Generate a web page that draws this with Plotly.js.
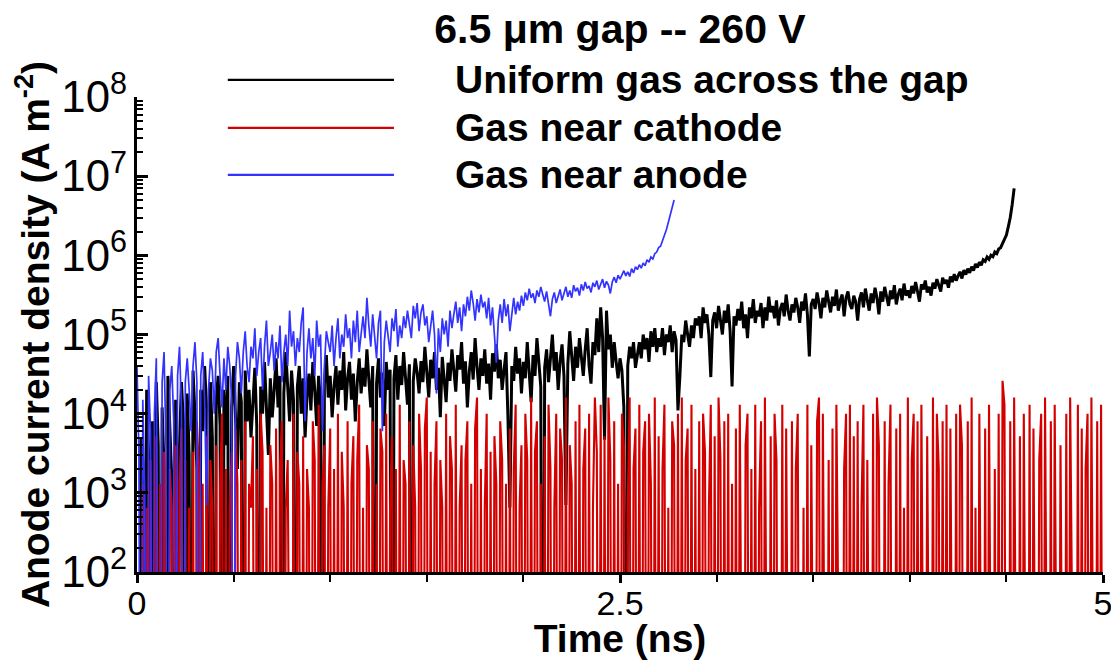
<!DOCTYPE html>
<html>
<head>
<meta charset="utf-8">
<script src="https://cdn.plot.ly/plotly-3.0.1.min.js"></script>
<style>
  html, body { margin: 0; padding: 0; background: #fff; }
  #chart { width: 1111px; height: 660px; }
</style>
</head>
<body>
<div id="chart"></div>
<script>
// ---------------- DATA (anode current density, A m^-2; samples every 0.01 ns) ----------------
const titleText = "6.5 \u03bcm gap -- 260 V";
const seriesNames = ["Uniform gas across the gap", "Gas near cathode", "Gas near anode"];
const seriesColors = ["#000000", "#d40000", "#3333ff"];
const timeStep = 0.01; // ns between samples, first sample at t = 0
const xTickValues = [0, 2.5, 5];
const xTickLabels = ["0", "2.5", "5"];

// Uniform gas across the gap (t = 0 ... 4.54 ns)
const uniformGas = [
  0, 0, 5e3, 1e3, 0, 2e4, 3e3, 0, 8e3, 0,
  2.5e4, 4e3, 0, 1.2e4, 2e3, 0, 3e4, 6e3, 1.5e3, 0,
  1.5e4, 0, 4e3, 2.5e4, 8e3, 0, 1.8e4, 3e3, 0, 3.5e4,
  1e4, 2e3, 0, 2e4, 6e3, 4e4, 1.2e4, 0, 2.5e4, 5e3,
  0, 1.5e4, 3e4, 7e3, 0, 2e4, 4e3, 3e4, 0, 1.2e4,
  4e4, 9e3, 2e3, 2.5e4, 1.4e4, 0, 3.5e4, 8e3, 2e4, 5e3,
  1.6e4, 3.8e4, 7e3, 0, 2.2e4, 1e4, 4.5e4, 1.3e4, 3e3, 2.8e4,
  9e3, 2e4, 5e4, 1.2e4, 3e4, 0, 1.8e4, 6e4, 2.5e4, 8e3,
  3.5e4, 1.5e4, 0, 2.2e4, 4e4, 1e4, 2.8e4, 5e3, 1.7e4, 3.2e4,
  1.1e4, 4.5e4, 2e4, 7e3, 3e4, 1.4e4, 0, 2.4e4, 5.5e4, 1.6e4,
  3e4, 9e3, 2.2e4, 4e4, 1.3e4, 3.5e4, 2e4, 6e4, 1.1e4, 2.8e4,
  4.5e4, 1.5e4, 3.2e4, 8e3, 2.5e4, 5e4, 1.8e4, 3.8e4, 2.2e4, 6.5e4,
  2.7e4, 1.2e4, 4e4, 0, 2.4e4, 5e4, 1.6e4, 3.3e4, 7e3, 4.5e4,
  2e4, 3.6e4, 0, 2.8e4, 5.5e4, 1.5e4, 4e4, 2.3e4, 6e4, 3e4,
  1.3e4, 4.2e4, 0, 2.6e4, 5e4, 3.3e4, 1.8e4, 4.6e4, 2.5e4, 7e4,
  3.5e4, 1.6e4, 4.8e4, 2.8e4, 6e4, 2e4, 3.8e4, 9e3, 5.2e4, 3e4,
  1.4e4, 4.4e4, 2.6e4, 6.5e4, 3.2e4, 1.9e4, 5.5e4, 3.6e4, 8e4, 2.4e4,
  4.6e4, 1.2e4, 3.4e4, 6e4, 2.7e4, 9e4, 3.9e4, 2e4, 5e4, 3e4,
  6.5e4, 2.4e4, 4.3e4, 1.5e4, 5.8e4, 3.4e4, 7.5e4, 2.8e4, 4.8e4, 2e4,
  3.6e4, 6e4, 9e3, 650, 4e4, 2.6e4, 7e4, 3.2e4, 5e4, 1.8e4,
  4.5e4, 2.8e4, 8e4, 3.5e4, 1.4e4, 5.5e4, 3e4, 9e4, 4e4, 2.2e4,
  0, 3.8e4, 6.5e4, 2.5e4, 5e4, 1e5, 3.5e4, 6e4, 2e4, 4.6e4,
  7.5e4, 3e4, 700, 4.2e4, 1.1e5, 5e4, 2.6e4, 7e4, 3.8e4, 9e4,
  4.8e4, 3e4, 6.5e4, 1.2e5, 4e4, 2.4e4, 8e4, 5.5e4, 1.6e5, 6e4,
  2.2e5, 9e4, 4.7e3, 2e5, 6.5e4, 1e5, 3.8e4, 8e4, 4.5e4, 2.8e4,
  5e4, 3.5e4, 1.2e4, 0, 4e4, 7e4, 5e4, 8e4, 3.8e4, 6e4,
  8e4, 5e4, 1e5, 6.5e4, 9e4, 4.5e4, 1.1e5, 7e4, 1.2e5, 6e4,
  9e4, 7e4, 1.2e5, 5.5e4, 1e5, 8e4, 1.3e5, 6e4, 1.1e5, 8.5e4,
  1.1e4, 3e4, 1e5, 8e4, 1.5e5, 1e5, 7e4, 1.3e5, 9e4, 1.6e5,
  1.3e5, 1.7e5, 9e4, 2.2e5, 1.4e5, 1.8e5, 1e5, 2.9e4, 1.5e5, 1.9e5,
  1.2e5, 2.3e5, 1.6e5, 1e5, 2e5, 1.4e5, 2.4e5, 1.1e5, 2.2e4, 1.7e5,
  1.3e5, 2.1e5, 1.5e5, 2.6e5, 1.2e5, 1.8e5, 9e4, 2.2e5, 1.6e5, 2.8e5,
  1.4e5, 2e5, 1.7e5, 2.5e5, 1.2e5, 2.2e5, 1.5e5, 3e5, 1.9e5, 2.3e5,
  1.6e5, 2.7e5, 1.3e5, 2.1e5, 2.5e5, 1.7e5, 3.2e5, 2e5, 1.5e5, 2.4e5,
  1.9e5, 2.9e5, 2.2e5, 1.4e5, 2.6e5, 2e5, 3.3e5, 1.8e5, 5.3e4, 2.4e5,
  2.8e5, 2.1e5, 3.4e5, 2.5e5, 1.6e5, 2.9e5, 2.2e5, 3.6e5, 2.6e5, 1.9e5,
  3e5, 2.3e5, 3.7e5, 2e5, 2.7e5, 3.2e5, 1.7e5, 2.9e5, 3.5e5, 2.4e5,
  2.1e5, 3.1e5, 2.6e5, 1.5e5, 2.8e5, 3.4e5, 2.2e5, 3.8e5, 2.7e5, 2e5,
  3.3e5, 2.5e5, 3.9e5, 2.9e5, 1.8e5, 3.5e5, 2.6e5, 4e5, 3e5, 2.3e5,
  3.6e5, 2.8e5, 4.2e5, 2.4e5, 3.2e5, 3.8e5, 2.7e5, 4.4e5, 3.1e5, 3.6e5,
  2.9e5, 4.1e5, 3.3e5, 4.6e5, 3.5e5, 2.6e5, 4.3e5, 3.7e5, 4.8e5, 3.4e5,
  4e5, 3.1e5, 4.5e5, 3.8e5, 5e5, 4.2e5, 3.5e5, 5.2e5, 4.4e5, 4.9e5,
  3.9e5, 5.4e5, 4.6e5, 5.8e5, 4.8e5, 5.5e5, 6.2e5, 5.1e5, 6.5e5, 5.7e5,
  6.8e5, 6e5, 7.2e5, 6.4e5, 7.8e5, 7e5, 8.2e5, 7.5e5, 8.8e5, 8.4e5,
  9.5e5, 8.9e5, 1e6, 9.6e5, 1.1e6, 1.05e6, 1.2e6, 1.25e6, 1.4e6, 1.55e6,
  1.8e6, 2.3e6, 3e6, 4.4e6, 7e6
];

// Gas near cathode (t = 0 ... 5.00 ns)
const gasNearCathode = [
  0, 0, 0, 1300, 0, 650, 0, 2600, 0, 0,
  5200, 0, 1300, 0, 3300, 0, 0, 2000, 650, 0,
  4000, 0, 1300, 6500, 0, 2600, 0, 650, 0, 3300,
  0, 8000, 2000, 0, 1300, 0, 5200, 0, 2600, 650,
  0, 4000, 0, 1300, 1e4, 0, 2000, 0, 650, 3300,
  0, 6500, 1300, 0, 2600, 0, 8000, 0, 1300, 650,
  5200, 0, 2000, 0, 1e4, 3300, 0, 650, 0, 4000,
  1300, 0, 6500, 0, 2000, 8000, 0, 650, 2600, 0,
  0, 1e4, 0, 3300, 1300, 0, 5200, 0, 2000, 650,
  0, 8000, 2600, 0, 1.3e4, 0, 1300, 4000, 0, 650,
  6500, 0, 2000, 0, 1e4, 0, 3300, 650, 0, 8000,
  0, 1300, 5200, 0, 2600, 1.3e4, 0, 650, 0, 4000,
  2000, 0, 8000, 0, 1300, 0, 6500, 3300, 0, 1e4,
  0, 650, 5200, 0, 2000, 0, 1.3e4, 0, 2600, 1300,
  0, 8000, 0, 4000, 650, 0, 1e4, 2000, 0, 6500,
  1.6e4, 0, 3300, 0, 1300, 8000, 0, 2600, 650, 0,
  1e4, 0, 5200, 2000, 0, 1.3e4, 0, 650, 4000, 0,
  2600, 8000, 0, 1300, 0, 6500, 1.6e4, 0, 2000, 0,
  650, 1e4, 0, 3300, 0, 5200, 1300, 0, 8000, 2600,
  0, 1300, 0, 6500, 0, 2000, 1.3e4, 0, 650, 4000,
  0, 1e4, 2600, 0, 1.6e4, 0, 3300, 8000, 0, 1300,
  0, 5200, 0, 1.3e4, 2000, 0, 650, 1e4, 0, 6500,
  2600, 0, 1.6e4, 0, 4000, 1300, 0, 8000, 0, 1.3e4,
  0, 2000, 6500, 0, 1e4, 0, 650, 1.6e4, 3300, 0,
  1.3e4, 0, 5200, 0, 1.6e4, 2600, 0, 8000, 0, 1300,
  0, 1e4, 4000, 0, 650, 1.6e4, 0, 2000, 6500, 0,
  1.3e4, 0, 3300, 8000, 0, 1e4, 1300, 0, 1.6e4, 0,
  5200, 0, 2000, 1.3e4, 0, 650, 0, 8000, 4000, 0,
  1e4, 0, 1.6e4, 0, 2600, 6500, 0, 1.3e4, 0, 2000,
  0, 8000, 0, 1e4, 3300, 0, 650, 1.3e4, 0, 5200,
  0, 1.6e4, 2600, 0, 8000, 0, 1e4, 0, 1300, 0,
  6500, 0, 1.3e4, 0, 0, 4000, 1e4, 0, 2000, 0,
  1.3e4, 0, 650, 8000, 0, 1.6e4, 0, 0, 5200, 0,
  1e4, 2600, 0, 0, 1.3e4, 0, 6500, 0, 0, 8000,
  0, 2000, 1e4, 0, 0, 650, 0, 1.3e4, 0, 4000,
  0, 0, 8000, 1.6e4, 0, 1e4, 0, 0, 2600, 0,
  6500, 0, 1.3e4, 0, 0, 0, 2000, 1e4, 0, 1.3e4,
  0, 5200, 0, 8000, 0, 650, 1.3e4, 0, 2600, 0,
  0, 1e4, 0, 1.6e4, 4000, 0, 0, 8000, 0, 1300,
  1.3e4, 0, 0, 6500, 0, 1e4, 0, 650, 0, 1.6e4,
  0, 2600, 1e4, 0, 8000, 0, 1.3e4, 0, 0, 5200,
  0, 0, 1.6e4, 0, 1e4, 2000, 0, 8000, 0, 1.3e4,
  0, 6500, 0, 0, 1e4, 0, 1.3e4, 4000, 0, 0,
  8000, 0, 1.6e4, 0, 650, 0, 1e4, 0, 0, 6500,
  0, 1.3e4, 0, 0, 2000, 0, 1e4, 0, 2.6e4, 1.3e4,
  0, 0, 8000, 0, 1.6e4, 0, 0, 5200, 0, 1e4,
  0, 0, 1.3e4, 0, 6500, 0, 0, 2600, 1e4, 0,
  1.6e4, 0, 0, 8000, 0, 1.3e4, 0, 0, 4000, 0,
  0, 1e4, 0, 1.6e4, 0, 0, 0, 1.3e4, 0, 6500,
  0, 2000, 1e4, 0, 1.6e4, 0, 0, 8000, 0, 1.3e4,
  0
];

// Gas near anode (t = 0 ... 2.78 ns)
const gasNearAnode = [
  4e4, 3e3, 0, 1.5e4, 1e3, 0, 3e4, 6e3, 0, 1e4,
  5e4, 2e3, 0, 2.5e4, 6e4, 4e3, 0, 2e4, 4e4, 8e3,
  0, 3e4, 7e4, 1.2e4, 0, 2.5e4, 5e4, 2e4, 6e3, 4e4,
  8e4, 2.5e4, 0, 3e4, 6e4, 1.5e4, 700, 2e4, 5e4, 3.5e4,
  1e4, 6e4, 9e4, 3e4, 1.2e4, 5e4, 2e4, 7e4, 4e4, 1.5e4,
  0, 3e4, 8e4, 5e4, 1.8e4, 6e4, 1.1e5, 4e4, 2.5e4, 7e4,
  5e4, 1.2e5, 3e4, 6e4, 9e4, 2e4, 7e4, 1.5e5, 4e4, 6e4,
  1e5, 3.5e4, 8e4, 5e4, 1.3e5, 2.5e4, 6e4, 1e5, 4e4, 2e5,
  7e4, 1.1e5, 4e4, 9e4, 6e4, 1.4e5, 2.2e5, 8e3, 6e4, 1.2e5,
  5e4, 9e4, 3e4, 1.5e5, 7e4, 1e5, 6e3, 4e4, 1.1e5, 8e4,
  6e4, 1.3e5, 4e4, 9e4, 1.6e5, 5e4, 1e5, 7e4, 1.8e5, 9e4,
  1.2e5, 5e4, 1.5e5, 8e4, 2e5, 6e4, 1.1e5, 1.7e5, 9e4, 2.9e5,
  1.3e5, 7e4, 1.8e5, 1e5, 5e4, 1.4e5, 2e5, 6e3, 8e4, 1.5e5,
  1e5, 6e4, 1.6e5, 1.1e5, 2.1e5, 7e4, 1.3e5, 9e4, 1.7e5, 1.2e5,
  2e5, 1.4e5, 9e4, 2.3e5, 1.6e5, 2.5e5, 1.1e5, 1.9e5, 2.4e5, 1.3e5,
  1.7e5, 8e4, 1.4e5, 2e5, 1e5, 1.8e4, 1.2e5, 6e4, 1.6e5, 1e5,
  1.5e5, 7e4, 2e5, 1.2e5, 1.8e5, 2.6e5, 1.4e5, 2.2e5, 1.1e5, 2.4e5,
  1.7e5, 3e5, 2e5, 3.6e5, 2.5e5, 1.5e5, 2.8e5, 1.9e5, 3.2e5, 2.2e5,
  2.6e5, 1.6e5, 2.9e5, 1.3e5, 2.2e5, 9e4, 4.4e4, 1.5e5, 2.4e5, 1.4e5,
  2.8e5, 1.7e5, 2.4e5, 1.1e5, 2e5, 2.9e5, 1.8e5, 2.6e5, 2e5, 3.1e5,
  2.3e5, 3.4e5, 2.7e5, 3.8e5, 2.9e5, 3.3e5, 2.5e5, 3.6e5, 3e5, 4e5,
  3.2e5, 2.6e5, 3.5e5, 2.3e5, 1.7e5, 2.8e5, 3.4e5, 2.5e5, 3e5, 3.7e5,
  2.7e5, 3.3e5, 4e5, 3e5, 3.6e5, 2.9e5, 4.2e5, 3.5e5, 3.9e5, 3.1e5,
  4.3e5, 3.6e5, 4.6e5, 3.8e5, 4.1e5, 3.4e5, 4.5e5, 4e5, 4.8e5, 3.7e5,
  4.4e5, 5e5, 3.9e5, 4.7e5, 4.2e5, 3.3e5, 4.6e5, 5.3e5, 4.5e5, 5.6e5,
  5e5, 5.8e5, 6.4e5, 5.5e5, 6.2e5, 5.4e5, 6.8e5, 6e5, 7.2e5, 6.6e5,
  7.6e5, 6.9e5, 8e5, 7.4e5, 8.8e5, 8.2e5, 9.5e5, 9e5, 1.05e6, 1.1e6,
  1.25e6, 1.3e6, 1.5e6, 1.8e6, 2.1e6, 2.6e6, 3.2e6, 4e6, 5e6
];

// ---------------- PLOT ----------------
// Zero samples cannot sit on a log axis: they are drawn far below the visible
// range so the line drops through the bottom of the frame, as in the original.
const zeroFloor = 1e-4;
const toTimes = arr => arr.map((_, i) => Math.round(i * timeStep * 100) / 100);
const toLogSafe = arr => arr.map(v => (v > 0 ? v : zeroFloor));

const seriesData = [uniformGas, gasNearCathode, gasNearAnode];
const lineWidths = [3, 2.1, 1.7];

const traces = seriesData.map((vals, k) => ({
  type: "scatter",
  mode: "lines",
  name: seriesNames[k],
  x: toTimes(vals),
  y: toLogSafe(vals),
  line: { color: seriesColors[k], width: lineWidths[k] },
  showlegend: false,
  hoverinfo: "x+y+name"
}));

const FONT = "Liberation Sans, Arial, Helvetica, sans-serif";

// Hand-drawn legend (long sample lines, as in the original figure)
const legendRows = [1.036, 0.935, 0.836];
const legendShapes = seriesNames.map((_, k) => ({
  type: "line", xref: "paper", yref: "paper",
  x0: 0.094, x1: 0.266, y0: legendRows[k], y1: legendRows[k],
  line: { color: seriesColors[k], width: 2.2 }
}));
const legendText = seriesNames.map((name, k) => ({
  xref: "paper", yref: "paper", x: 0.327, y: legendRows[k],
  xanchor: "left", yanchor: "middle", showarrow: false,
  text: name,
  font: { family: FONT, size: 39, color: "#000", weight: "bold" }
}));

const layout = {
  width: 1111, height: 660,
  margin: { l: 137, r: 8, t: 97, b: 88 },
  paper_bgcolor: "#ffffff",
  plot_bgcolor: "#ffffff",
  font: { family: FONT, color: "#000" },
  title: {
    text: titleText,
    font: { family: FONT, size: 41, color: "#000", weight: "bold" },
    x: 0.5, xref: "paper", xanchor: "center",
    y: 0.957, yref: "container", yanchor: "middle"
  },
  xaxis: {
    range: [0, 5],
    tickmode: "array",
    tickvals: xTickValues,
    ticktext: xTickLabels,
    ticks: "outside", ticklen: 8, tickwidth: 3, tickcolor: "#000",
    ticklabelstandoff: -9,
    ticklabeloverflow: "allow",
    minor: { dtick: 0.5, tick0: 0, ticks: "outside", ticklen: 7, tickwidth: 2, tickcolor: "#000", showgrid: false },
    showline: true, linecolor: "#000", linewidth: 3,
    showgrid: false, zeroline: false,
    tickfont: { family: FONT, size: 34, color: "#000" },
    title: { text: "Time (ns)", font: { family: FONT, size: 39, color: "#000", weight: "bold" }, standoff: 2 },
    automargin: false
  },
  yaxis: {
    type: "log",
    range: [2, 8],
    dtick: 1,
    exponentformat: "power",
    ticks: "inside", ticklen: 11, tickwidth: 3, tickcolor: "#000",
    minor: { dtick: "D1", ticks: "inside", ticklen: 6, tickwidth: 1.5, tickcolor: "#000", showgrid: false },
    showline: true, linecolor: "#000", linewidth: 3,
    showgrid: false, zeroline: false,
    tickfont: { family: FONT, size: 35, color: "#000" },
    title: { text: "Anode current density (A m<sup>-2</sup>)", font: { family: FONT, size: 39, color: "#000", weight: "bold" }, standoff: 0 },
    automargin: false
  },
  shapes: legendShapes,
  annotations: legendText,
  showlegend: false
};

Plotly.newPlot("chart", traces, layout, { displayModeBar: false, responsive: false });
</script>
</body>
</html>
